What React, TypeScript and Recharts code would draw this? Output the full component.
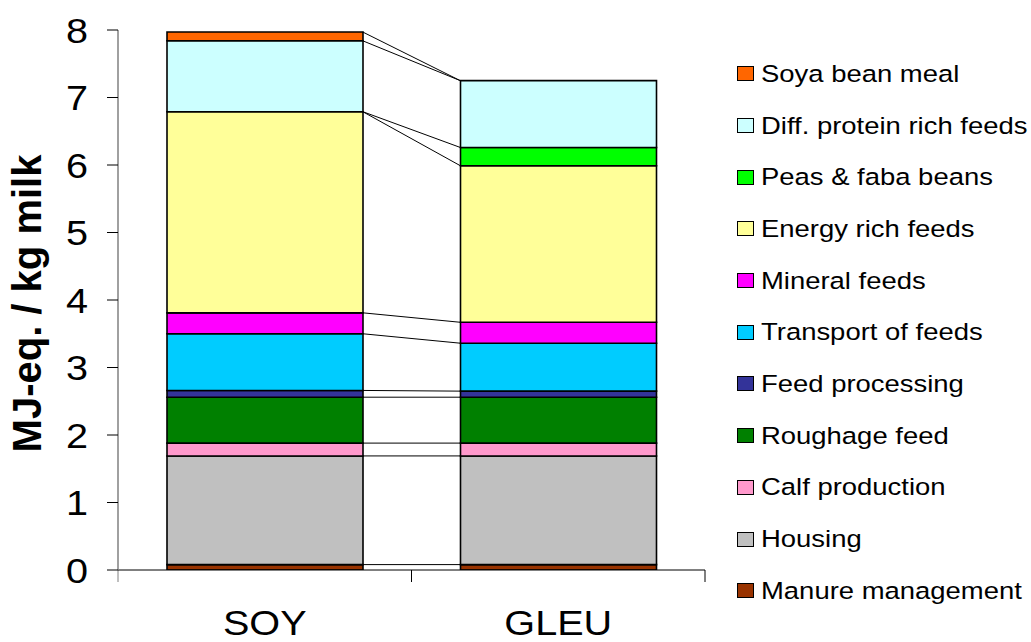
import * as R from "recharts";
import { Bar, BarChart, Customized, XAxis, YAxis } from "recharts";

// categories (x axis) and y range
const categories = ["SOY", "GLEU"];
const yTicks = [0, 1, 2, 3, 4, 5, 6, 7, 8];
const Y_MAX = 8;

// series, bottom of the stack first (MJ-eq. / kg milk)
const manure = [0.08, 0.08];
const housing = [1.61, 1.61];
const calf = [0.19, 0.19];
const roughage = [0.68, 0.68];
const feedProcessing = [0.1, 0.09];
const transport = [0.84, 0.71];
const mineral = [0.31, 0.31];
const energyRich = [2.98, 2.32];
const peasFaba = [0, 0.27];
const diffProtein = [1.05, 0.99];
const soyaMeal = [0.13, 0];

const series = [
  { key: "manure", name: "Manure management", color: "#993300", values: manure },
  { key: "housing", name: "Housing", color: "#C0C0C0", values: housing },
  { key: "calf", name: "Calf production", color: "#FF99CC", values: calf },
  { key: "roughage", name: "Roughage feed", color: "#008000", values: roughage },
  { key: "feedProcessing", name: "Feed processing", color: "#333399", values: feedProcessing },
  { key: "transport", name: "Transport of feeds", color: "#00CCFF", values: transport },
  { key: "mineral", name: "Mineral feeds", color: "#FF00FF", values: mineral },
  { key: "energyRich", name: "Energy rich feeds", color: "#FFFF99", values: energyRich },
  { key: "peasFaba", name: "Peas & faba beans", color: "#00FF00", values: peasFaba },
  { key: "diffProtein", name: "Diff. protein rich feeds", color: "#CCFFFF", values: diffProtein },
  { key: "soyaMeal", name: "Soya bean meal", color: "#FF6600", values: soyaMeal },
];

const data = categories.map((name, i) => {
  const row: Record<string, string | number> = { name };
  series.forEach((s) => (row[s.key] = s.values[i]));
  return row;
});

const W = 1031;
const H = 642;
const MARGIN = { top: 30, right: 326, bottom: 0, left: 0 };
const Y_AXIS_W = 118;
const X_AXIS_H = 72;
const BAR_SIZE = 196;
const FONT = "Arial, 'Liberation Sans', sans-serif";

function usePlot() {
  const anyR = R as any;
  if (anyR.usePlotArea) {
    const p = anyR.usePlotArea();
    if (p) return p as { x: number; y: number; width: number; height: number };
  }
  return {
    x: MARGIN.left + Y_AXIS_W,
    y: MARGIN.top,
    width: W - MARGIN.left - MARGIN.right - Y_AXIS_W,
    height: H - MARGIN.top - MARGIN.bottom - X_AXIS_H,
  };
}

// series lines between the two stacks + category boundary ticks
function Overlay() {
  const plot = usePlot();
  const band = plot.width / categories.length;
  const yOf = (v: number) => plot.y + plot.height * (1 - v / Y_MAX);
  const leftRight = plot.x + band / 2 + BAR_SIZE / 2;
  const rightLeft = plot.x + band * 1.5 - BAR_SIZE / 2;
  let a = 0;
  let b = 0;
  const lines = series.map((s) => {
    a += s.values[0];
    b += s.values[1];
    return (
      <line
        key={s.key}
        x1={leftRight}
        y1={yOf(a)}
        x2={rightLeft}
        y2={yOf(b)}
        stroke="#000"
        strokeWidth={1}
      />
    );
  });
  const base = plot.y + plot.height;
  return (
    <g>
      {lines}
      {[0, 1, 2].map((i) => (
        <line
          key={i}
          x1={plot.x + band * i}
          x2={plot.x + band * i}
          y1={base}
          y2={base + 12}
          stroke={i === 0 ? "#808080" : "#000"}
          strokeWidth={1}
        />
      ))}
    </g>
  );
}

function YTick(props: any) {
  const { x, y, payload } = props;
  return (
    <text
      transform={`translate(${x},${y}) scale(1.1,1)`}
      textAnchor="end"
      dy="0.36em"
      fontSize={36}
      fontFamily={FONT}
      fill="#000"
    >
      {payload.value}
    </text>
  );
}

function XTick(props: any) {
  const { x, y, payload } = props;
  return (
    <text
      transform={`translate(${x},${y}) scale(1.1,1)`}
      textAnchor="middle"
      dy="0.71em"
      fontSize={36}
      fontFamily={FONT}
      fill="#000"
    >
      {payload.value}
    </text>
  );
}

function LegendBox() {
  const items = [...series].reverse();
  return (
    <div style={{ position: "absolute", left: 737, top: 48, fontFamily: FONT }}>
      {items.map((s) => (
        <div key={s.key} style={{ height: 51.7, display: "flex", alignItems: "center" }}>
          <span
            style={{
              width: 15,
              height: 13,
              background: s.color,
              border: "1.3px solid #000",
              marginRight: 7,
            }}
          />
          <span
            style={{
              fontSize: 24.5,
              color: "#000",
              whiteSpace: "nowrap",
              display: "inline-block",
              transform: "scaleX(1.12)",
              transformOrigin: "left center",
            }}
          >
            {s.name}
          </span>
        </div>
      ))}
    </div>
  );
}

export default function App() {
  return (
    <div style={{ position: "absolute", left: 0, top: 0, width: W, height: H, background: "#fff" }}>
      <BarChart width={W} height={H} data={data} margin={MARGIN} barSize={BAR_SIZE}>
        <XAxis
          dataKey="name"
          height={X_AXIS_H}
          axisLine={{ stroke: "#000", strokeWidth: 1 }}
          tickLine={false}
          tickSize={0}
          tickMargin={39}
          tick={<XTick />}
          interval={0}
        />
        <YAxis
          width={Y_AXIS_W}
          domain={[0, Y_MAX]}
          ticks={yTicks}
          interval={0}
          axisLine={{ stroke: "#808080", strokeWidth: 1.5 }}
          tickLine={{ stroke: "#000" }}
          tickSize={11}
          tickMargin={19}
          tick={<YTick />}
          allowDataOverflow
        />
        {series.map((s) => (
          <Bar
            key={s.key}
            dataKey={s.key}
            name={s.name}
            stackId="a"
            fill={s.color}
            stroke="#000"
            strokeWidth={1.6}
            isAnimationActive={false}
          />
        ))}
        <Customized component={<Overlay />} />
      </BarChart>
      <svg width={60} height={H} style={{ position: "absolute", left: 0, top: 0, pointerEvents: "none" }}>
        <text
          transform="translate(41,303.5) rotate(-90)"
          textAnchor="middle"
          fontSize={40}
          fontWeight="bold"
          fontFamily={FONT}
          fill="#000"
        >
          MJ-eq. / kg milk
        </text>
      </svg>
      <LegendBox />
    </div>
  );
}
